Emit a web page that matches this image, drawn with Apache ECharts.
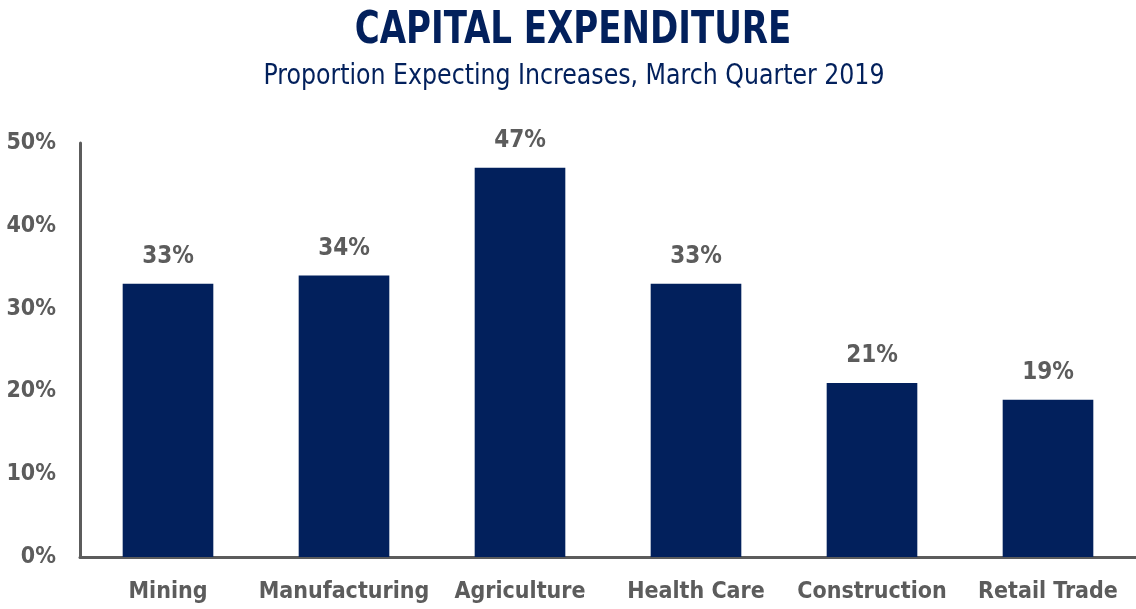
<!DOCTYPE html>
<html>
<head>
<meta charset="utf-8">
<script src="https://cdn.jsdelivr.net/npm/echarts@6/dist/echarts.min.js"></script>
<style>
  html, body { margin: 0; padding: 0; background: #ffffff; }
  #chart { width: 1136px; height: 609px; }
</style>
</head>
<body>
<div id="chart"></div>
<script>
// Industries and share of firms expecting capex increases (%)
const categories = ['Mining', 'Manufacturing', 'Agriculture', 'Health Care', 'Construction', 'Retail Trade'];
const values = [33, 34, 47, 33, 21, 19];
const yTicks = [0, 10, 20, 30, 40, 50];

const titleText = 'CAPITAL EXPENDITURE';
const subtitleText = 'Proportion Expecting Increases, March Quarter 2019';

const NAVY = '#02205c';
const GREY = '#5c5c5c';
const FONT = '"DejaVu Sans Condensed", "Liberation Sans Narrow", sans-serif';

const chart = echarts.init(document.getElementById('chart'));
chart.setOption({
  animation: false,
  // Heading drawn as condensed text, narrowed horizontally
  graphic: [
    {
      type: 'text',
      x: 573,
      y: 32,
      scaleX: 0.86,
      style: {
        text: titleText,
        font: 'bold 44px ' + FONT,
        fill: NAVY,
        align: 'center',
        verticalAlign: 'middle'
      }
    },
    {
      type: 'text',
      x: 574,
      y: 77,
      scaleX: 0.94,
      style: {
        text: subtitleText,
        font: '28px ' + FONT,
        fill: NAVY,
        align: 'center',
        verticalAlign: 'middle'
      }
    }
  ],
  grid: { left: 80, right: -4, top: 143, bottom: 52, containLabel: false },
  xAxis: {
    type: 'category',
    data: categories,
    axisLine: { lineStyle: { color: GREY, width: 3 } },
    axisTick: { show: false },
    axisLabel: { interval: 0, fontFamily: FONT, fontWeight: 'bold', fontSize: 23, color: GREY, margin: 24 }
  },
  yAxis: {
    type: 'value',
    min: yTicks[0],
    max: yTicks[yTicks.length - 1],
    interval: 10,
    axisLine: { show: true, lineStyle: { color: GREY, width: 3 } },
    axisTick: { show: false },
    splitLine: { show: false },
    axisLabel: { fontFamily: FONT, fontWeight: 'bold', fontSize: 23, color: GREY, margin: 24, formatter: '{value}%' }
  },
  series: [{
    type: 'bar',
    data: values,
    barWidth: '51.5%',
    itemStyle: { color: NAVY },
    label: {
      show: true,
      position: 'top',
      distance: 15,
      formatter: '{c}%',
      fontFamily: FONT,
      fontWeight: 'bold',
      fontSize: 24,
      color: GREY
    }
  }]
});
</script>
</body>
</html>
